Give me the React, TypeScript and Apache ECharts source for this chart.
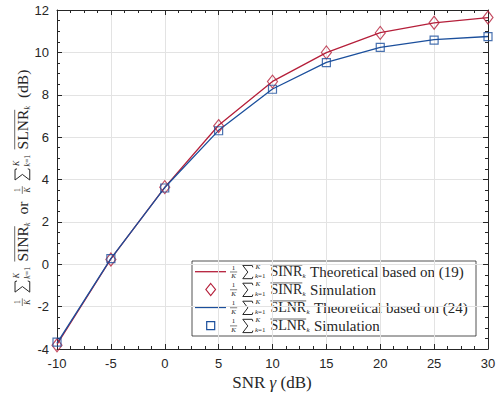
import React, { useEffect, useRef } from "react";
import * as echarts from "echarts";

const snrDb = [-10, -5, 0, 5, 10, 15, 20, 25, 30];
const sinrTheory = [-3.78, 0.25, 3.63, 6.56, 8.63, 9.99, 10.93, 11.39, 11.64];
const sinrSim = [-3.82, 0.22, 3.64, 6.52, 8.62, 10.0, 10.92, 11.4, 11.65];
const slnrTheory = [-3.72, 0.27, 3.62, 6.32, 8.27, 9.53, 10.24, 10.6, 10.75];
const slnrSim = [-3.68, 0.27, 3.6, 6.3, 8.26, 9.52, 10.24, 10.58, 10.74];

const legendWords = ["SINR", "SINR", "SLNR", "SLNR"];
const legendTexts = ["Theoretical based on (19)", "Simulation", "Theoretical based on (24)", "Simulation"];
const xAxisTitle = ["SNR ", "γ", " (dB)"];

const RED = "#B51F3A";
const BLUE = "#1B4F9C";
const INK = "#262626";
const SERIF = '"Liberation Serif", "Times New Roman", serif';

let measureCtx: CanvasRenderingContext2D | null = null;
function measure(text: string, size: number, italic = false) {
  if (!measureCtx) measureCtx = document.createElement("canvas").getContext("2d");
  measureCtx!.font = `${italic ? "italic " : ""}${size}px ${SERIF}`;
  return measureCtx!.measureText(text).width;
}

function txt(text: string, x: number, y: number, size: number, italic: boolean, color: string, align = "left") {
  return {
    type: "text",
    x,
    y,
    silent: true,
    style: {
      text,
      fontSize: size,
      fontFamily: SERIF,
      fontStyle: italic ? "italic" : "normal",
      fill: color,
      align,
      verticalAlign: "middle",
    },
  };
}

function hline(x1: number, x2: number, y: number, color: string, w: number) {
  return { type: "line", silent: true, shape: { x1, y1: y, x2, y2: y }, style: { stroke: color, lineWidth: w } };
}

function sigma(x: number, yTop: number, w: number, h: number, color: string) {
  return {
    type: "polyline",
    silent: true,
    shape: {
      points: [
        [x + w, yTop + 2],
        [x + w - 0.6, yTop],
        [x, yTop],
        [x + w * 0.5, yTop + h / 2],
        [x, yTop + h],
        [x + w - 0.6, yTop + h],
        [x + w, yTop + h - 2],
      ],
    },
    style: { stroke: color, lineWidth: 1, fill: "none", lineJoin: "miter" },
  };
}

function buildExpr(word: string, f: number, color: string, x0: number) {
  const els: any[] = [];
  const s = f * 0.5;
  let x = x0;
  const fw = Math.max(measure("1", s), measure("K", s, true)) + 2.5;
  els.push(txt("1", x + fw / 2, -0.3 * f, s, false, color, "center"));
  els.push(hline(x, x + fw, 0.02 * f, color, 0.6));
  els.push(txt("K", x + fw / 2, 0.33 * f, s, true, color, "center"));
  x += fw + 0.4 * f;
  const sw = 0.72 * f;
  const sh = 0.95 * f;
  els.push(sigma(x, -0.45 * f, sw, sh, color));
  x += sw + 0.15 * f;
  const wK = measure("K", s, true);
  const wk = measure("k", s, true);
  const weq = measure("=1", s);
  els.push(txt("K", x + 0.5, -0.37 * f, s, true, color));
  els.push(txt("k", x, 0.33 * f, s, true, color));
  els.push(txt("=1", x + wk, 0.33 * f, s, false, color));
  x += Math.max(wK + 0.5, wk + weq) + 0.35 * f;
  const ww = measure(word, f);
  els.push(txt(word, x, 0, f, false, color));
  els.push(hline(x, x + ww, -0.47 * f, color, 0.7));
  x += ww;
  els.push(txt("k", x + 0.3, 0.33 * f, s, true, color));
  x += measure("k", s, true) + 0.5;
  return { els, end: x };
}

function buildYLabel() {
  const f = 15.5;
  const a = buildExpr("SINR", f, INK, 0);
  let x = a.end;
  const orT = "  or  ";
  const orEl = txt(orT, x, 0, f, false, INK);
  x += measure(orT, f);
  const b = buildExpr("SLNR", f, INK, x);
  x = b.end;
  const dbEl = txt("  (dB)", x, 0, f, false, INK);
  return {
    type: "group",
    x: 22,
    y: 306,
    rotation: Math.PI / 2,
    children: [...a.els, orEl, ...b.els, dbEl],
  };
}

function buildLegend() {
  const f = 14;
  const rowsY = [271.7, 289.5, 307.5, 325.6];
  const colors = [RED, RED, BLUE, BLUE];
  const children: any[] = [
    {
      type: "rect",
      silent: true,
      shape: { x: 192, y: 261, width: 284, height: 75 },
      style: { fill: "#ffffff", stroke: INK, lineWidth: 0.8 },
    },
  ];
  rowsY.forEach((ry, i) => {
    const c = colors[i];
    const rowEls: any[] = [];
    if (i === 0 || i === 2) {
      rowEls.push(hline(195, 226, 0, c, 1.3));
    } else if (i === 1) {
      rowEls.push({
        type: "polygon",
        silent: true,
        shape: { points: [[210.7, -6], [215.5, 0], [210.7, 6], [205.9, 0]] },
        style: { fill: "none", stroke: c, lineWidth: 1.2 },
      });
    } else {
      rowEls.push({
        type: "rect",
        silent: true,
        shape: { x: 206.7, y: -4, width: 8, height: 8 },
        style: { fill: "none", stroke: c, lineWidth: 1.2 },
      });
    }
    const e = buildExpr(legendWords[i], f, INK, 230);
    rowEls.push(...e.els);
    rowEls.push(txt(legendTexts[i], e.end + 0.3 * f, 0, 15, false, INK));
    children.push({ type: "group", x: 0, y: ry, children: rowEls });
  });
  return { type: "group", children };
}

function pairs(vals: number[]) {
  return snrDb.map((x, i) => [x, vals[i]]);
}

export default function App() {
  const ref = useRef<HTMLDivElement>(null);
  useEffect(() => {
    if (!ref.current) return;
    const chart = echarts.init(ref.current, undefined, { renderer: "svg" });
    const axisCommon = {
      axisLine: { show: true, onZero: false, lineStyle: { color: INK, width: 1 } },
      axisTick: { show: true, inside: true, length: 5, lineStyle: { color: INK } },
      minorTick: { show: true, splitNumber: 4, length: 3, lineStyle: { color: INK } },
    };
    const labelStyle = { color: INK, fontSize: 13, fontFamily: '"Liberation Sans", Arial, sans-serif' };
    chart.setOption({
      animation: false,
      backgroundColor: "#ffffff",
      grid: { left: 57, right: 12, top: 10, bottom: 48, containLabel: false },
      xAxis: [
        {
          type: "value",
          position: "bottom",
          min: -10,
          max: 30,
          interval: 5,
          ...axisCommon,
          splitLine: { show: true, lineStyle: { color: "#e3e3e3", width: 1 } },
          axisLabel: { ...labelStyle, margin: 8 },
        },
        {
          type: "value",
          position: "top",
          min: -10,
          max: 30,
          interval: 5,
          ...axisCommon,
          splitLine: { show: false },
          axisLabel: { show: false },
        },
      ],
      yAxis: [
        {
          type: "value",
          position: "left",
          min: -4,
          max: 12,
          interval: 2,
          ...axisCommon,
          splitLine: { show: true, lineStyle: { color: "#e3e3e3", width: 1 } },
          axisLabel: { ...labelStyle, margin: 8 },
        },
        {
          type: "value",
          position: "right",
          min: -4,
          max: 12,
          interval: 2,
          ...axisCommon,
          splitLine: { show: false },
          axisLabel: { show: false },
        },
      ],
      series: [
        {
          name: "SINR theoretical (19)",
          type: "line",
          data: pairs(sinrTheory),
          symbol: "none",
          lineStyle: { color: RED, width: 1.3 },
          itemStyle: { color: RED },
          z: 3,
        },
        {
          name: "SINR simulation",
          type: "scatter",
          data: pairs(sinrSim),
          symbol: "diamond",
          symbolSize: [10, 13],
          itemStyle: { color: "transparent", borderColor: RED, borderWidth: 1.2 },
          z: 4,
        },
        {
          name: "SLNR theoretical (24)",
          type: "line",
          data: pairs(slnrTheory),
          symbol: "none",
          lineStyle: { color: BLUE, width: 1.3 },
          itemStyle: { color: BLUE },
          z: 3,
        },
        {
          name: "SLNR simulation",
          type: "scatter",
          data: pairs(slnrSim),
          symbol: "rect",
          symbolSize: 8,
          itemStyle: { color: "transparent", borderColor: BLUE, borderWidth: 1.2 },
          z: 4,
        },
      ],
      graphic: [
        buildYLabel(),
        buildLegend(),
        {
          type: "text",
          x: 272,
          y: 382,
          silent: true,
          style: {
            text: `{a|${xAxisTitle[0]}}{g|${xAxisTitle[1]}}{a|${xAxisTitle[2]}}`,
            align: "center",
            verticalAlign: "middle",
            rich: {
              a: { fontSize: 17, fontFamily: SERIF, fill: INK },
              g: { fontSize: 17, fontFamily: SERIF, fontStyle: "italic", fill: INK },
            },
          },
        },
      ],
    });
    return () => chart.dispose();
  }, []);
  return <div ref={ref} style={{ position: "absolute", left: 0, top: 0, width: 500, height: 397 }} />;
}
